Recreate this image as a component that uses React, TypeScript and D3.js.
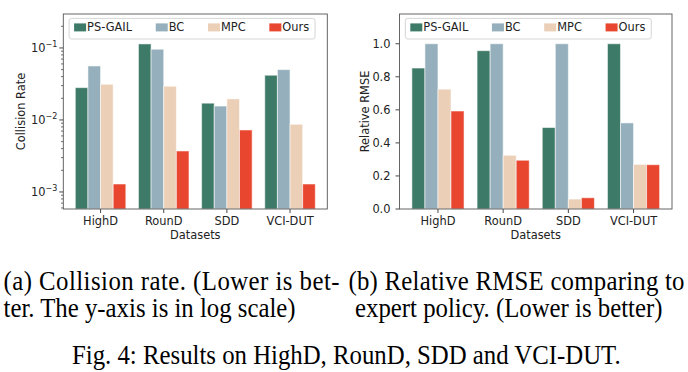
import React from 'react';
import * as d3 from 'd3';

const categories = ['HighD', 'RounD', 'SDD', 'VCI-DUT'];
const methods = ['PS-GAIL', 'BC', 'MPC', 'Ours'];
const methodColors = ['#3e7a68', '#95b0bc', '#ebcfb7', '#e8462f'];

// (a) collision rate, log scale
const collisionPSGAIL = [0.0281, 0.1137, 0.0171, 0.0418];
const collisionBC = [0.0562, 0.096, 0.0156, 0.05];
const collisionMPC = [0.0313, 0.0294, 0.0196, 0.0087];
const collisionOurs = [0.00129, 0.00371, 0.00726, 0.00129];

// (b) relative RMSE
const rmsePSGAIL = [0.853, 0.958, 0.493, 1.0];
const rmseBC = [1.0, 1.0, 1.0, 0.521];
const rmseMPC = [0.725, 0.325, 0.06, 0.27];
const rmseOurs = [0.593, 0.295, 0.068, 0.268];

const logTicks = [0.001, 0.01, 0.1];
const logTickExp = ['\u22123', '\u22122', '\u22121'];
const linTicks = [0, 0.2, 0.4, 0.6, 0.8, 1.0];

const FONT = 'DejaVu Sans, sans-serif';
const FS = 11.4;
const TOP = 14;
const BOTTOM = 209;

let ctx: CanvasRenderingContext2D | null = null;
const textWidth = (s: string) => {
  if (!ctx) ctx = document.createElement('canvas').getContext('2d');
  if (!ctx) return s.length * 7;
  ctx.font = `${FS}px DejaVu Sans`;
  return ctx.measureText(s).width;
};

const Legend = ({ x, y }: { x: number; y: number }) => {
  let cx = x + 5;
  const items = methods.map((m, i) => {
    const px = cx;
    cx += 13 + textWidth(m) + 23.7;
    return (
      <g key={m}>
        <rect x={px} y={y + 5} width={12} height={8} fill={methodColors[i]} />
        <text x={px + 13} y={y + 12.8} fontSize={FS} fontFamily={FONT} fill="#222">{m}</text>
      </g>
    );
  });
  const w = cx - 23.7 + 5.9 - x;
  return (
    <g>
      <rect x={x} y={y} width={w} height={20.6} rx={2.5} fill="#fff" fillOpacity={0.85} stroke="#d0d0d0" strokeWidth={0.9} />
      {items}
    </g>
  );
};

interface PanelProps {
  left: number;
  right: number;
  series: number[][];
  log: boolean;
  ylabel: string;
  ylabelX: number;
}

const Panel = ({ left, right, series, log, ylabel, ylabelX }: PanelProps) => {
  const x = d3.scaleLinear().domain([-0.59, 3.59]).range([left, right]);
  const y = log
    ? d3.scaleLog().domain([5.8e-4, 0.296]).range([BOTTOM, TOP])
    : d3.scaleLinear().domain([0, 1.18]).range([BOTTOM, TOP]);
  const bw = 0.2;
  const minorTicks: number[] = [];
  if (log) {
    [1e-4, 1e-3, 1e-2, 1e-1].forEach(d => {
      for (let k = 2; k <= 9; k++) {
        const v = d * k;
        if (v > 5.8e-4 && v < 0.296) minorTicks.push(v);
      }
    });
  }
  const midY = (TOP + BOTTOM) / 2;
  return (
    <g>
      {categories.map((c, i) => (
        <g key={c}>
          {series.map((s, j) => {
            const x0 = x(i + (j - 1.5) * bw - bw / 2);
            const x1 = x(i + (j - 1.5) * bw + bw / 2);
            const yt = y(s[i]);
            return (
              <rect key={j} x={x0} y={yt} width={x1 - x0} height={BOTTOM - yt}
                fill={methodColors[j]} stroke="#fff" strokeOpacity={0.55} strokeWidth={1} />
            );
          })}
          <line x1={x(i)} x2={x(i)} y1={BOTTOM} y2={BOTTOM + 4} stroke="#333" strokeWidth={0.9} />
          <text x={x(i)} y={224.8} textAnchor="middle" fontSize={FS} fontFamily={FONT} fill="#222">{c}</text>
        </g>
      ))}
      {minorTicks.map(v => (
        <line key={v} x1={left - 2.3} x2={left} y1={y(v)} y2={y(v)} stroke="#333" strokeWidth={0.7} />
      ))}
      {log
        ? logTicks.map((v, k) => (
            <g key={v}>
              <line x1={left - 4} x2={left} y1={y(v)} y2={y(v)} stroke="#333" strokeWidth={0.9} />
              <text x={left - 6} y={y(v) + 4.2} textAnchor="end" fontSize={FS} fontFamily={FONT} fill="#222">
                10<tspan fontSize={8} dy={-5}>{logTickExp[k]}</tspan>
              </text>
            </g>
          ))
        : linTicks.map(v => (
            <g key={v}>
              <line x1={left - 4} x2={left} y1={y(v)} y2={y(v)} stroke="#333" strokeWidth={0.9} />
              <text x={left - 9} y={y(v) + 4.2} textAnchor="end" fontSize={FS} fontFamily={FONT} fill="#222">
                {d3.format('.1f')(v)}
              </text>
            </g>
          ))}
      <rect x={left} y={TOP} width={right - left} height={BOTTOM - TOP} fill="none" stroke="#555" strokeWidth={0.9} />
      <text transform={`translate(${ylabelX},${midY}) rotate(-90)`} textAnchor="middle" fontSize={FS} fontFamily={FONT} fill="#222">{ylabel}</text>
      <text x={(left + right) / 2} y={238.5} textAnchor="middle" fontSize={FS} fontFamily={FONT} fill="#222">Datasets</text>
      <Legend x={left + 5.8} y={18.4} />
    </g>
  );
};

// caption text, Times-like, slightly stretched vertically as in the reference
const Caption = ({ x, y, children, len }: { x: number; y: number; children: string; len?: number }) => (
  <g transform={`translate(${x},${y}) scale(1,1.07)`}>
    <text x={0} y={0} textLength={len} lengthAdjust={len ? 'spacing' : undefined}>{children}</text>
  </g>
);

export default function App() {
  const serif = 'Liberation Serif, Times New Roman, serif';
  return (
    <svg width={688} height={372} style={{ position: 'absolute', left: 0, top: 0, background: '#fff' }}>
      <rect width={688} height={372} fill="#fff" />
      <Panel left={63.3} right={327.3} log ylabel="Collision Rate" ylabelX={25}
        series={[collisionPSGAIL, collisionBC, collisionMPC, collisionOurs]} />
      <Panel left={399.5} right={672} log={false} ylabel="Relative RMSE" ylabelX={369}
        series={[rmsePSGAIL, rmseBC, rmseMPC, rmseOurs]} />
      <g fontFamily={serif} fontSize={24.8} fill="#000">
        <Caption x={3.5} y={290} len={336}>(a) Collision rate. (Lower is bet-</Caption>
        <Caption x={3.5} y={317}>ter. The y-axis is in log scale)</Caption>
        <Caption x={348.5} y={290} len={336}>(b) Relative RMSE comparing to</Caption>
        <Caption x={355} y={317}>expert policy. (Lower is better)</Caption>
        <Caption x={72} y={364}>Fig. 4: Results on HighD, RounD, SDD and VCI-DUT.</Caption>
      </g>
    </svg>
  );
}
